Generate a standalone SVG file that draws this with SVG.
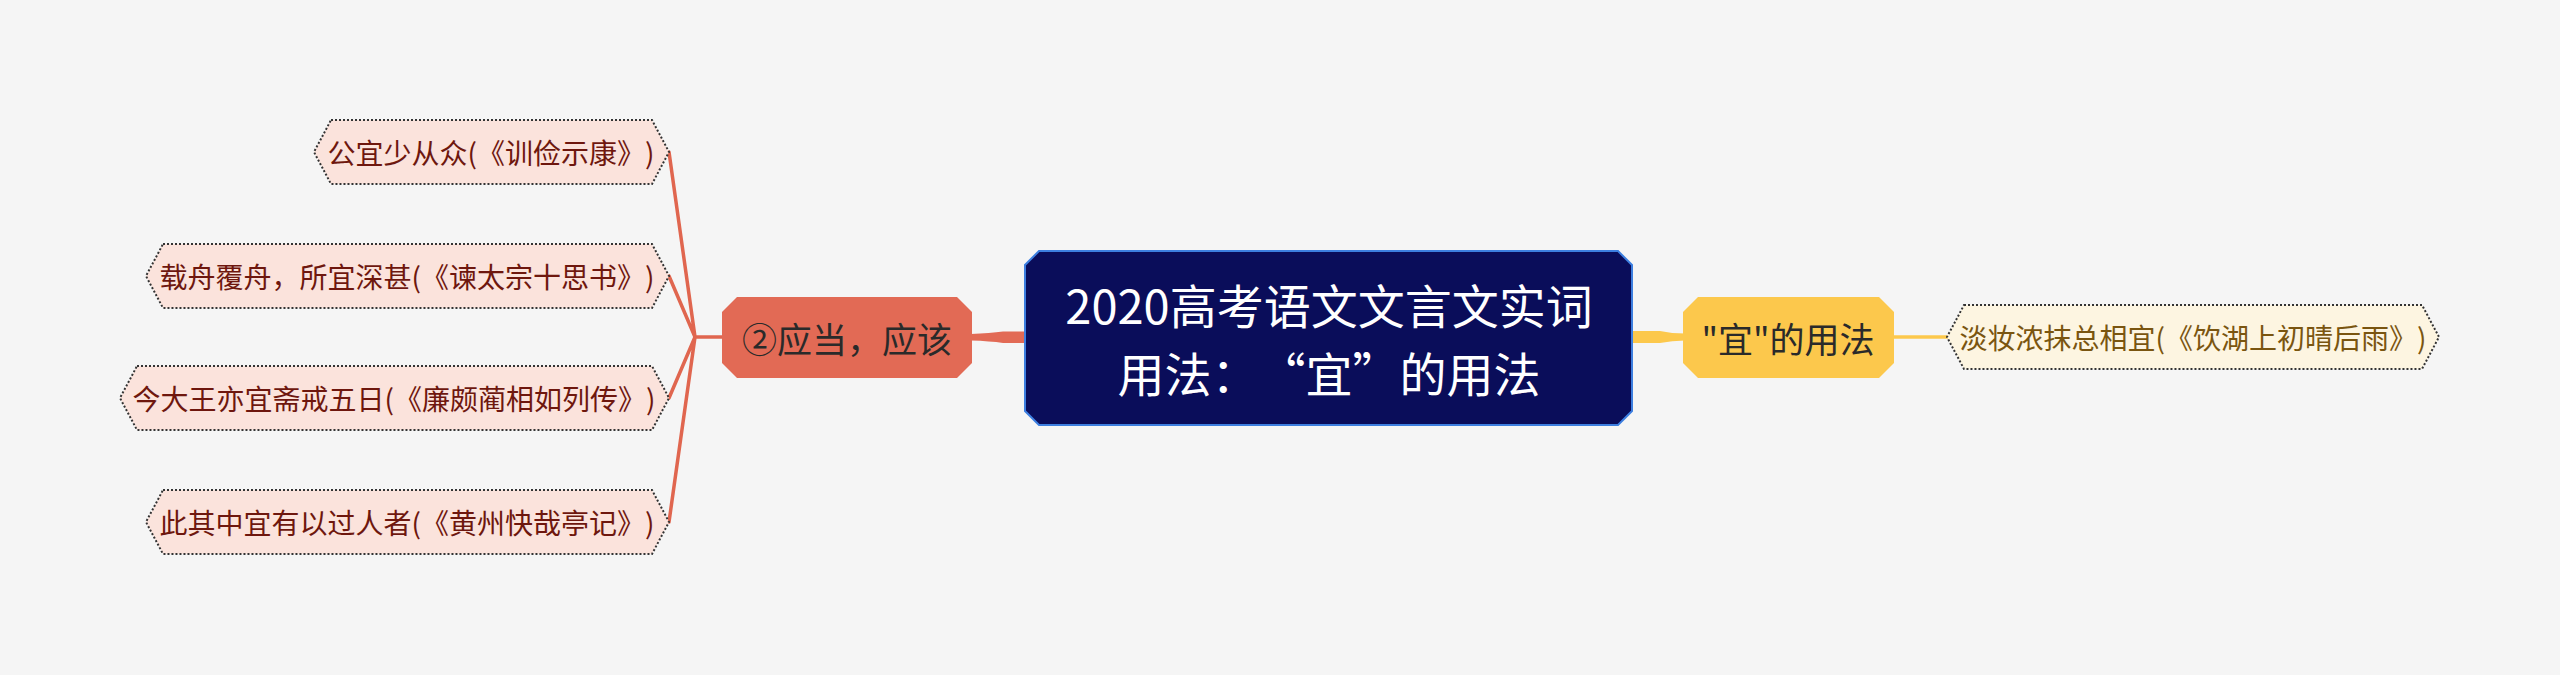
<svg xmlns="http://www.w3.org/2000/svg" width="2560" height="675" viewBox="0 0 2560 675">
<style>
text{font-family:"Noto Sans CJK SC","Noto Sans",sans-serif;text-anchor:middle;dominant-baseline:central;text-spacing-trim:space-all}
.leafL{fill:#fbe3dc;stroke:#333;stroke-width:2;stroke-dasharray:2 2}
.leafR{fill:#fdf5e1;stroke:#333;stroke-width:2;stroke-dasharray:2 2}
.tl{font-size:28px;fill:#6e170e}
.tr{font-size:28px;fill:#7a5510}
.fan{stroke:#e0664f;stroke-width:3.5;fill:none;stroke-linecap:round}
</style>
<rect width="2560" height="675" fill="#f5f5f5"/>
<g id="connectors">
<path class="fan" d="M695 337 L669 152 M695 337 L669 276 M695 337 L669 398 M695 337 L669 522 M695 337 L723 337"/>
<path d="M971 334 Q990 333 1003 331.5 L1027 331.5 L1027 343 L1003 343 Q990 341 971 340.5 Z" fill="#e26a55"/>
<path d="M1631 331 L1660 331 Q1672 333.5 1685 333.5 L1685 340.5 Q1672 340.5 1660 343 L1631 343 Z" fill="#fcc84c"/>
<path d="M1893 337 L1948 337" stroke="#fcc84c" stroke-width="3.5" fill="none"/>
</g>
<g id="center">
<path d="M1039 251 L1618 251 L1632 265 L1632 411 L1618 425 L1039 425 L1025 411 L1025 265 Z" fill="#0a0d5a" stroke="#3d7fe0" stroke-width="2"/>
<text x="1329" y="303" font-size="47" fill="#ffffff">2020高考语文文言文实词</text>
<text x="1329" y="371" font-size="47" fill="#ffffff">用法：“宜”的用法</text>
</g>
<g id="branch-left">
<path d="M737 297 L957 297 L972 312 L972 363 L957 378 L737 378 L722 363 L722 312 Z" fill="#e26a55"/>
<text x="847" y="337" font-size="35" fill="#2a2a2a">②应当，应该</text>
</g>
<g id="branch-right">
<path d="M1698 297 L1879 297 L1894 312 L1894 363 L1879 378 L1698 378 L1683 363 L1683 312 Z" fill="#fcc84c"/>
<text x="1788" y="337" font-size="35" fill="#2a2a2a">"宜"的用法</text>
</g>
<g id="leaf1">
<path class="leafL" d="M331 120 L652 120 L669 152 L652 184 L331 184 L314 152 Z"/>
<text class="tl" x="491" y="152">公宜少从众(《训俭示康》)</text>
</g>
<g id="leaf2">
<path class="leafL" d="M163 244 L652 244 L669 276 L652 308 L163 308 L146 276 Z"/>
<text class="tl" x="407" y="276">载舟覆舟，所宜深甚(《谏太宗十思书》)</text>
</g>
<g id="leaf3">
<path class="leafL" d="M137 366 L652 366 L669 398 L652 430 L137 430 L120 398 Z"/>
<text class="tl" x="394" y="398">今大王亦宜斋戒五日(《廉颇蔺相如列传》)</text>
</g>
<g id="leaf4">
<path class="leafL" d="M163 490 L652 490 L669 522 L652 554 L163 554 L146 522 Z"/>
<text class="tl" x="407" y="522">此其中宜有以过人者(《黄州快哉亭记》)</text>
</g>
<g id="leaf5">
<path class="leafR" d="M1964 305 L2422 305 L2439 337 L2422 369 L1964 369 L1947 337 Z"/>
<text class="tr" x="2193" y="337">淡妆浓抹总相宜(《饮湖上初晴后雨》)</text>
</g>
</svg>
